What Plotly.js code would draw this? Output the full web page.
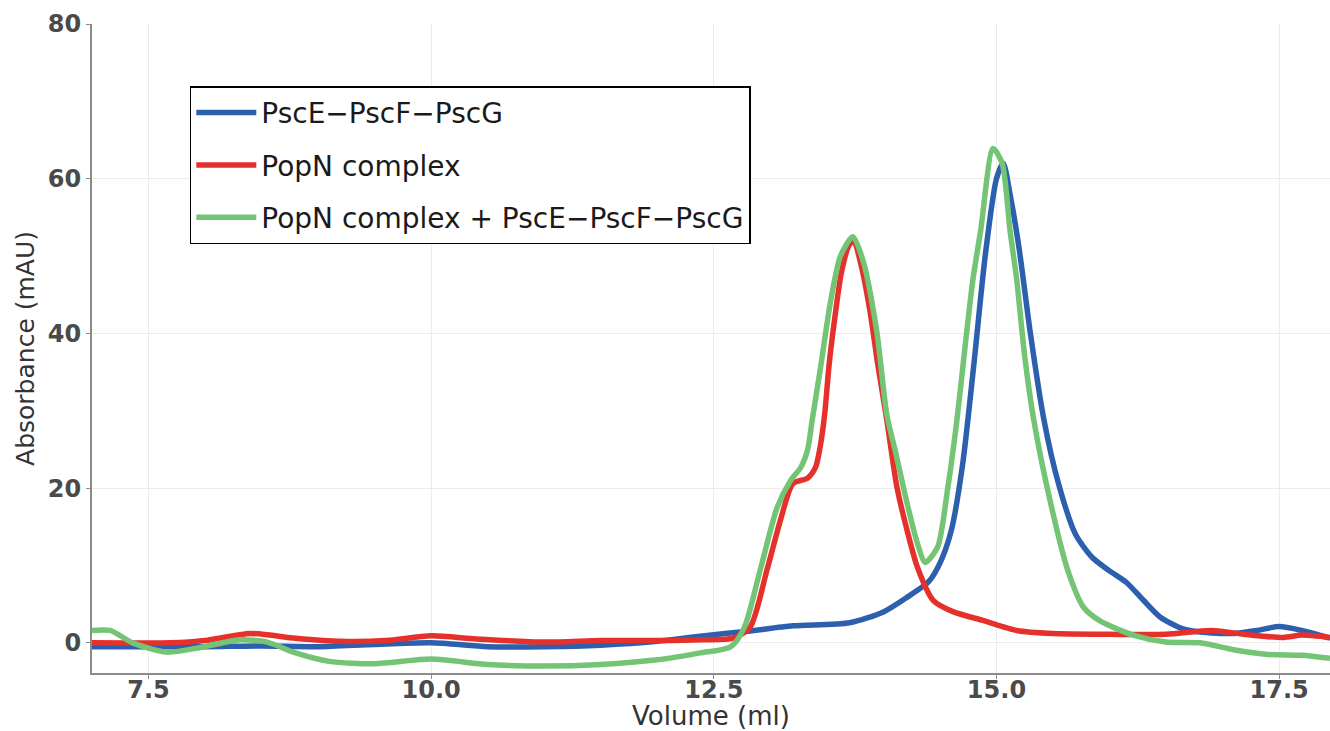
<!DOCTYPE html>
<html>
<head>
<meta charset="utf-8">
<script src="https://cdn.plot.ly/plotly-3.0.1.min.js"></script>
<style>html,body{margin:0;padding:0;background:#fff;}#chart{width:1330px;height:731px;}</style>
</head>
<body>
<div id="chart"></div>
<script>
// Series names
const seriesNames = ["PscE\u2212PscF\u2212PscG", "PopN complex", "PopN complex + PscE\u2212PscF\u2212PscG"];

// PscE-PscF-PscG (blue)
const blueX = [7.0,7.5,8.0,8.5,9.0,9.5,10.0,10.5,11.0,11.5,12.0,12.4,12.8,13.2,13.7,14.0,14.2,14.4,14.5,14.6,14.7,14.8,14.9,15.0,15.06,15.12,15.2,15.3,15.42,15.55,15.7,15.85,16.0,16.15,16.3,16.45,16.65,16.8,17.1,17.3,17.5,17.7,17.95];
const blueY = [-0.5,-0.5,-0.5,-0.4,-0.5,-0.2,0.0,-0.5,-0.5,-0.3,0.2,0.9,1.5,2.2,2.6,4.0,5.8,7.9,10.3,14.5,23,36,50,60,62,58,51,40,28.8,20.5,14,11,9.3,7.8,5.5,3.3,1.8,1.4,1.2,1.6,2.1,1.6,0.6];

// PopN complex (red)
const redX = [7.0,7.7,8.0,8.4,8.8,9.2,9.6,10.0,10.4,11.0,11.5,12.0,12.4,12.67,12.82,12.97,13.09,13.2,13.33,13.4,13.44,13.48,13.52,13.57,13.63,13.7,13.74,13.8,13.88,13.95,14.03,14.12,14.21,14.3,14.44,14.62,14.88,15.18,15.5,16.0,16.5,16.9,17.25,17.54,17.7,17.95];
const redY = [0,0,0.3,1.2,0.6,0.2,0.3,0.9,0.5,0.1,0.3,0.3,0.4,0.6,2.0,9.4,15.9,20.6,21.3,22.7,25.3,29.5,36,42,48,51.5,51.8,49,43,36,28.8,20.1,14.5,9.8,5.5,4.0,2.9,1.6,1.2,1.1,1.1,1.6,1.0,0.7,1.0,0.7];

// PopN complex + PscE-PscF-PscG (green)
const greenX = [7.0,7.16,7.36,7.66,7.96,8.31,8.55,8.78,9.1,9.5,10.0,10.5,11.0,11.5,12.0,12.38,12.65,12.77,12.91,13.06,13.18,13.27,13.33,13.37,13.44,13.53,13.62,13.73,13.82,13.94,14.03,14.11,14.21,14.3,14.37,14.48,14.57,14.65,14.72,14.79,14.86,14.97,15.05,15.12,15.18,15.25,15.33,15.48,15.63,15.77,15.92,16.21,16.5,16.8,17.1,17.4,17.7,17.95];
const greenY = [1.6,1.6,0,-1.2,-0.6,0.4,0.1,-1.2,-2.4,-2.7,-2.1,-2.8,-3.0,-2.8,-2.2,-1.3,-0.5,2.0,9.4,17.5,21,22.7,25,28.8,35.2,43.9,50,52.5,49.4,40.4,29.5,24.5,18.0,12.9,10.4,12.4,20.1,28.8,38,46.8,53.3,63.9,62,53.3,46.8,37,28.8,18,9.4,4.6,2.8,1.0,0.1,0,-0.9,-1.5,-1.6,-2.0];

// Axis ticks
const xTicks = [7.5,10.0,12.5,15.0,17.5];
const xTickLabels = ["7.5","10.0","12.5","15.0","17.5"];
const yTicks = [0,20,40,60,80];
const yTickLabels = ["0","20","40","60","80"];

const colors = ["#2c5fae","#e5302b","#74c476"];
const xs = [blueX, redX, greenX];
const ys = [blueY, redY, greenY];

const traces = xs.map((x,i)=>({
  x: x, y: ys[i], type:'scatter', mode:'lines', name: seriesNames[i],
  legendgroup: 'g'+i,
  line:{color:colors[i], width:5.5, shape:'spline', smoothing:0.7}
}));

const fam = '"DejaVu Sans", "Liberation Sans", Arial, sans-serif';
const axisFont = {family:fam, size:24, color:'#4a4a4a', weight:'bold'};

const layout = {
  width:1330, height:731,
  paper_bgcolor:'#fff', plot_bgcolor:'#fff',
  margin:{l:92, r:0, t:24, b:58},
  showlegend:true,
  legend:{
    x:0.079, y:0.904, xanchor:'left', yanchor:'top',
    bgcolor:'#fff', bordercolor:'#000', borderwidth:1.5,
    font:{family:fam, size:28, color:'#1a1a1a'},
    tracegroupgap:13, itemwidth:60
  },
  xaxis:{
    range:[7.0,17.95], tickvals:xTicks, ticktext:xTickLabels,
    showgrid:true, gridcolor:'#ececec', gridwidth:1, zeroline:false,
    showline:true, linecolor:'#8c8c8c', linewidth:2,
    ticks:'outside', ticklen:4, tickcolor:'#8c8c8c', tickwidth:1,
    ticklabelstandoff:-10,
    tickfont:axisFont,
    title:{text:'Volume (ml)', standoff:7, font:{family:fam, size:26, color:'#333'}}
  },
  yaxis:{
    range:[-3.9,80], tickvals:yTicks, ticktext:yTickLabels,
    showgrid:true, gridcolor:'#ececec', gridwidth:1, zeroline:false,
    showline:true, linecolor:'#8c8c8c', linewidth:2,
    ticks:'outside', ticklen:4, tickcolor:'#8c8c8c', tickwidth:1,
    tickfont:axisFont,
    title:{text:'Absorbance (mAU)', standoff:6, font:{family:fam, size:25, color:'#333'}}
  }
};

Plotly.newPlot('chart', traces, layout, {displayModeBar:false, staticPlot:true});
</script>
</body>
</html>
